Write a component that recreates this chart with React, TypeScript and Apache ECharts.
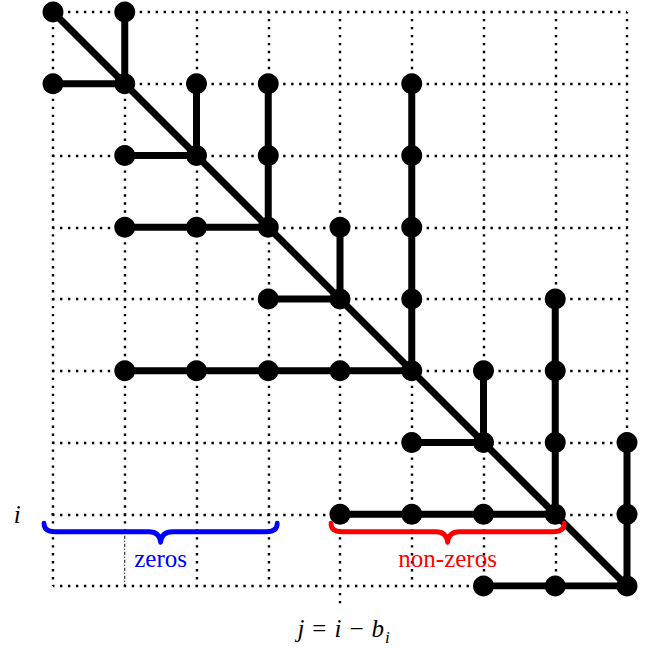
import React, { useEffect, useRef } from "react";
import * as echarts from "echarts";

// grid index range (columns j and rows i both run 0..8)
const GRID_MAX = 8;

// nodes: [column, row]
const points: [number, number][] = [
  [0, 0], [1, 0],
  [0, 1], [1, 1], [2, 1], [3, 1], [5, 1],
  [1, 2], [2, 2], [3, 2], [5, 2],
  [1, 3], [2, 3], [3, 3], [4, 3], [5, 3],
  [3, 4], [4, 4], [5, 4], [7, 4],
  [1, 5], [2, 5], [3, 5], [4, 5], [5, 5], [6, 5], [7, 5],
  [5, 6], [6, 6], [7, 6], [8, 6],
  [4, 7], [5, 7], [6, 7], [7, 7], [8, 7],
  [6, 8], [7, 8], [8, 8],
];

// horizontal segments: [row, fromCol, toCol]
const hSegs: [number, number, number][] = [
  [1, 0, 1], [2, 1, 2], [3, 1, 3], [4, 3, 4], [5, 1, 5], [6, 5, 6], [7, 4, 7], [8, 6, 8],
];

// vertical segments: [col, fromRow, toRow]
const vSegs: [number, number, number][] = [
  [1, 0, 1], [2, 1, 2], [3, 1, 3], [5, 1, 5], [4, 3, 4], [7, 4, 7], [6, 5, 6], [8, 6, 8],
];

const diagonal: [number, number][] = [[0, 0], [8, 8]];

// braces: [fromCol, toCol, row]
const braceSpans: [number, number, number][] = [[0, 3, 7], [4, 7, 7]];
const braceLabels = ["zeros", "non-zeros"];
const braceColors = ["#0000ff", "#ff0000"];

// dotted guide extensions
const rowGuide: [number, number][] = [[0, 7], [-0.25, 7]];
const colGuide: [number, number][] = [[4, 8], [4, 8.25]];
const thinGuide: [number, number][] = [[1, 7.3], [1, 8]];
const thinGuideMask: [number, number][] = [[1, 7.3], [1, 7.97]];

const rowLabelPos: [number, number] = [-0.5, 7];
const colLabelPos: [number, number] = [4, 8];

const SERIF = "Liberation Serif";

export default function App() {
  const ref = useRef<HTMLDivElement>(null);

  useEffect(() => {
    const chart = echarts.init(ref.current!, null, { renderer: "svg" });
    const dotted: any = {
      color: "#000",
      width: 2.4,
      type: [2.4, 5.5722],
      dashOffset: 1.2,
      cap: "butt",
    };
    const axisBase: any = {
      type: "value",
      min: 0,
      max: GRID_MAX,
      interval: 1,
      axisLine: { show: false },
      axisTick: { show: false },
      axisLabel: { show: false },
      splitLine: { show: true, showMinLine: true, showMaxLine: true, lineStyle: dotted },
    };

    const segData: [number, number][][] = [
      ...hSegs.map(([r, c0, c1]) => [[c0, r], [c1, r]] as [number, number][]),
      ...vSegs.map(([c, r0, r1]) => [[c, r0], [c, r1]] as [number, number][]),
      diagonal,
    ];

    const segSeries = segData.map((data) => ({
      type: "line",
      data,
      symbol: "none",
      silent: true,
      z: 3,
      lineStyle: { color: "#000", width: 7, cap: "round", opacity: 1 },
    }));

    const option: any = {
      animation: false,
      grid: { left: 53, top: 12, width: 574, height: 574 },
      xAxis: { ...axisBase },
      yAxis: { ...axisBase, inverse: true },
      series: [
        { type: "line", data: rowGuide, symbol: "none", clip: false, silent: true, z: 1, lineStyle: dotted },
        { type: "line", data: colGuide, symbol: "none", clip: false, silent: true, z: 1, lineStyle: dotted },
        {
          type: "line", data: thinGuideMask, symbol: "none", clip: false, silent: true, z: 2,
          lineStyle: { color: "#fff", width: 4, cap: "butt" },
        },
        {
          type: "line", data: thinGuide, symbol: "none", clip: false, silent: true, z: 2,
          lineStyle: { color: "#000", width: 1, type: [3, 2, 1, 2], cap: "butt" },
        },
        ...segSeries,
        {
          type: "scatter",
          data: points,
          symbol: "circle",
          symbolSize: 21,
          silent: true,
          z: 4,
          itemStyle: { color: "#000", opacity: 1 },
        },
        {
          type: "custom",
          z: 5,
          silent: true,
          data: braceSpans.map((s, i) => ({ value: [...s, i], itemStyle: { color: braceColors[i] } })),
          renderItem: (_params: any, api: any) => {
            const c0 = api.value(0);
            const c1 = api.value(1);
            const r = api.value(2);
            const idx = api.value(3);
            const [xl, yr] = api.coord([c0, r]);
            const [xr] = api.coord([c1, r]);
            const L = xl - 9;
            const R = xr + 9;
            const M = (L + R) / 2;
            const y0 = yr + 9;
            const y1 = yr + 17.5;
            const y2 = yr + 28;
            const d =
              `M${L},${y0} Q${L},${y1} ${L + 11},${y1} L${M - 12},${y1} ` +
              `Q${M - 1},${y1} ${M},${y2} Q${M + 1},${y1} ${M + 12},${y1} ` +
              `L${R - 11},${y1} Q${R},${y1} ${R},${y0}`;
            const color = api.visual("color");
            return {
              type: "group",
              children: [
                {
                  type: "path",
                  shape: { pathData: d },
                  style: { stroke: color, fill: "none", lineWidth: 4.8, lineCap: "round", lineJoin: "round" },
                },
                {
                  type: "text",
                  x: M,
                  y: yr + 44,
                  style: {
                    text: braceLabels[idx],
                    fill: color,
                    fontSize: 25,
                    fontFamily: SERIF,
                    align: "center",
                    verticalAlign: "middle",
                  },
                },
              ],
            };
          },
        },
      ],
    };

    chart.setOption(option);

    const [ix, iy] = chart.convertToPixel({ gridIndex: 0 }, rowLabelPos) as number[];
    const [jx, jy] = chart.convertToPixel({ gridIndex: 0 }, colLabelPos) as number[];

    chart.setOption({
      graphic: [
        {
          type: "text",
          x: ix,
          y: iy,
          silent: true,
          style: {
            text: "i",
            fill: "#000",
            fontSize: 25,
            fontStyle: "italic",
            fontFamily: SERIF,
            align: "center",
            verticalAlign: "middle",
          },
        },
        {
          type: "text",
          x: jx + 44,
          y: jy + 42,
          silent: true,
          style: {
            text: "{it|j}{op|=}{it|i}{op|−}{it|b}",
            fill: "#000",
            fontSize: 25,
            fontFamily: SERIF,
            align: "right",
            verticalAlign: "middle",
            rich: {
              it: { fontStyle: "italic", fontSize: 25, fontFamily: SERIF, fill: "#000" },
              op: { fontSize: 25, fontFamily: SERIF, fill: "#000", padding: [0, 8, 0, 8] },
            },
          },
        },
        {
          type: "text",
          x: jx + 45,
          y: jy + 51,
          silent: true,
          style: {
            text: "i",
            fill: "#000",
            fontSize: 17,
            fontStyle: "italic",
            fontFamily: SERIF,
            align: "left",
            verticalAlign: "middle",
          },
        },
      ],
    });

    return () => chart.dispose();
  }, []);

  return (
    <div
      ref={ref}
      style={{ position: "absolute", left: 0, top: 0, width: 651, height: 648 }}
    />
  );
}
